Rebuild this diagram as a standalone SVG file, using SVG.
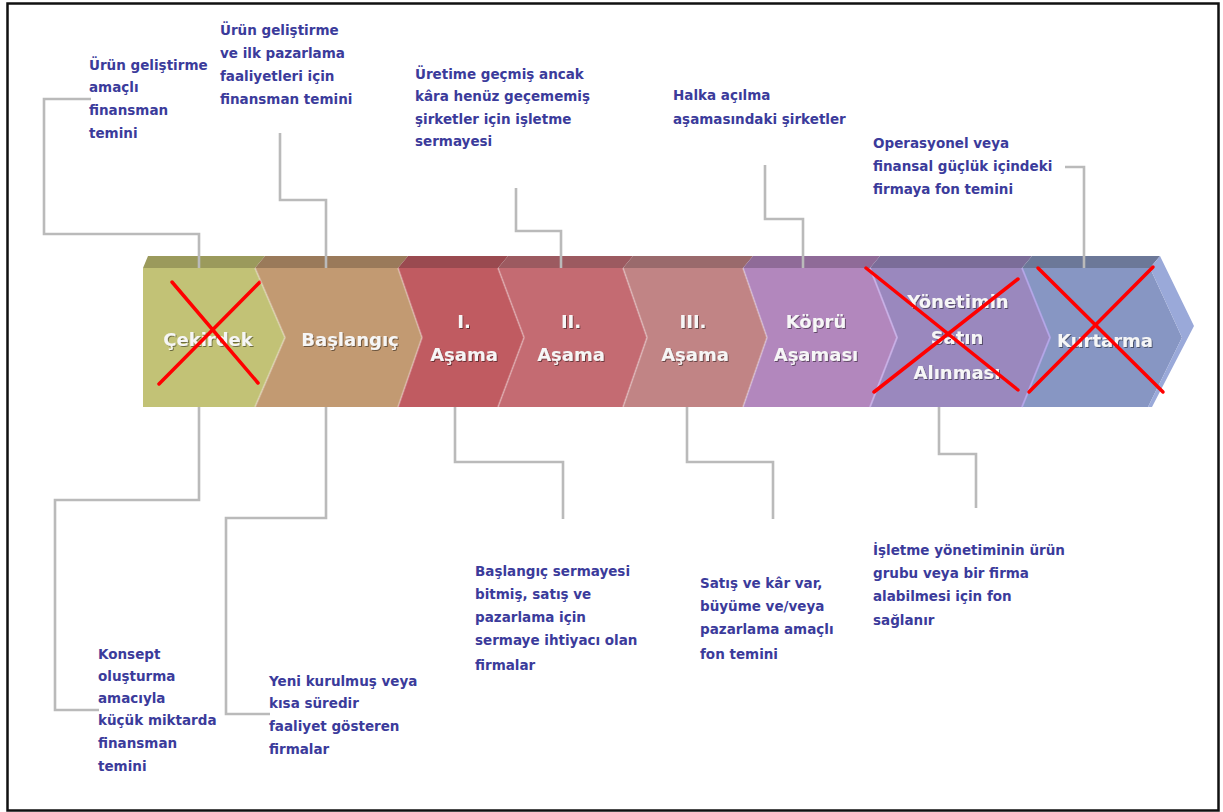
<svg xmlns="http://www.w3.org/2000/svg" width="1223" height="812" viewBox="0 0 1223 812">
<defs>
<style>
.lbl{font-family:"DejaVu Sans","Liberation Sans",sans-serif;font-weight:bold;font-size:13.5px;fill:#3b3b9b}
.chv{font-family:"DejaVu Sans","Liberation Sans",sans-serif;font-weight:bold;font-size:18px;fill:#f6f6f6;text-anchor:middle}
.con{fill:none;stroke:#bababa;stroke-width:2.6}
.hl{fill:none;stroke:#ffffff;stroke-opacity:0.28;stroke-width:2}
.x{fill:none;stroke:#ff0000;stroke-width:3.5;stroke-linecap:round}
</style>
<filter id="sh" x="-10%" y="-30%" width="120%" height="160%">
<feDropShadow dx="1" dy="1" stdDeviation="0.6" flood-color="#000" flood-opacity="0.45"/>
</filter>
</defs>
<rect x="0" y="0" width="1223" height="812" fill="#ffffff"/>
<rect x="7.5" y="3.5" width="1211" height="807" fill="none" stroke="#111" stroke-width="2.5"/>

<g id="cekirdek">
<polygon points="143,268 148,256 265,256 255,268" fill="#9b9a5c"/>
<polygon points="143,268 255,268 285,337.5 255,407 143,407" fill="#c2c276"/>
<text class="chv" x="208" y="346" filter="url(#sh)">Çekirdek</text>
<path class="x" d="M172,282 L258,383 M260,282 L159,384"/>
</g>

<g id="baslangic">
<polygon points="255,268 265,256 408,256 398,268" fill="#9a7a5a"/>
<polygon points="255,268 398,268 422,337.5 398,407 255,407 285,337.5" fill="#c29a72"/>
<polyline class="hl" points="255,268 285,337.5 255,407"/>
<text class="chv" x="350" y="346" filter="url(#sh)">Başlangıç</text>
</g>

<g id="asama1">
<polygon points="398,268 408,256 508,256 498,268" fill="#9a4a50"/>
<polygon points="398,268 498,268 524,337.5 498,407 398,407 422,337.5" fill="#c05b61"/>
<polyline class="hl" points="398,268 422,337.5 398,407"/>
<text class="chv" x="464" y="328" filter="url(#sh)">I.</text>
<text class="chv" x="464" y="361" filter="url(#sh)">Aşama</text>
</g>

<g id="asama2">
<polygon points="498,268 508,256 633,256 623,268" fill="#9c5a60"/>
<polygon points="498,268 623,268 647,337.5 623,407 498,407 524,337.5" fill="#c46b72"/>
<polyline class="hl" points="498,268 524,337.5 498,407"/>
<text class="chv" x="571" y="328" filter="url(#sh)">II.</text>
<text class="chv" x="571" y="361" filter="url(#sh)">Aşama</text>
</g>

<g id="asama3">
<polygon points="623,268 633,256 753,256 743,268" fill="#9a6a6c"/>
<polygon points="623,268 743,268 767,337.5 743,407 623,407 647,337.5" fill="#c18485"/>
<polyline class="hl" points="623,268 647,337.5 623,407"/>
<text class="chv" x="693" y="328" filter="url(#sh)">III.</text>
<text class="chv" x="695" y="361" filter="url(#sh)">Aşama</text>
</g>

<g id="kopru">
<polygon points="743,268 753,256 880,256 870,268" fill="#8f6b98"/>
<polygon points="743,268 870,268 897,337.5 870,407 743,407 767,337.5" fill="#b287bd"/>
<polyline class="hl" points="743,268 767,337.5 743,407"/>
<text class="chv" x="816" y="328" filter="url(#sh)">Köprü</text>
<text class="chv" x="816" y="361" filter="url(#sh)">Aşaması</text>
</g>

<g id="yonetim">
<polygon points="870,268 880,256 1032,256 1022,268" fill="#7b6d99"/>
<polygon points="870,268 1022,268 1050,337.5 1022,407 870,407 897,337.5" fill="#9a88be"/>
<polyline class="hl" points="870,268 897,337.5 870,407" style="stroke:#d0b8f0;stroke-opacity:0.7"/>
<text class="chv" x="958" y="308" filter="url(#sh)">Yönetimin</text>
<text class="chv" x="957" y="344" filter="url(#sh)">Satın</text>
<text class="chv" x="957" y="379" filter="url(#sh)">Alınması</text>
<path class="x" d="M866,268 L1018,390 M1018,279 L874,392"/>
</g>

<g id="kurtarma">
<polygon points="1022,268 1032,256 1160,256 1150,268" fill="#6c7898"/>
<polygon points="1022,268 1150,268 1182,337.5 1148,407 1022,407 1050,337.5" fill="#8796c3"/>
<polygon points="1150,268 1160,256 1194,326 1152,407 1148,407 1182,337.5" fill="#9aa9d9"/>
<polyline class="hl" points="1022,268 1050,337.5 1022,407" style="stroke:#b8a8ec;stroke-opacity:0.8"/>
<text class="chv" x="1105" y="347" filter="url(#sh)">Kurtarma</text>
<path class="x" d="M1038,268 L1163,392 M1153,267 L1029,392"/>
</g>

<g id="connectors">
<path class="con" d="M91,99 H44 V234 H199 V268"/>
<path class="con" d="M280,133 V200 H326 V268"/>
<path class="con" d="M516,188 V231 H561 V268"/>
<path class="con" d="M765,165 V219 H803 V268"/>
<path class="con" d="M1065,167 H1084 V268"/>
<path class="con" d="M199,407 V500 H55 V710 H99"/>
<path class="con" d="M326,407 V518 H226 V714 H270"/>
<path class="con" d="M455,407 V462 H563 V519"/>
<path class="con" d="M687,407 V462 H773 V519"/>
<path class="con" d="M939,407 V454 H976 V508"/>
</g>

<g id="note-cekirdek-top">
<text class="lbl" x="89" y="70">Ürün geliştirme</text>
<text class="lbl" x="89" y="92">amaçlı</text>
<text class="lbl" x="89" y="115">finansman</text>
<text class="lbl" x="89" y="138">temini</text>
</g>
<g id="note-baslangic-top">
<text class="lbl" x="220" y="35">Ürün geliştirme</text>
<text class="lbl" x="220" y="58">ve ilk pazarlama</text>
<text class="lbl" x="220" y="81">faaliyetleri için</text>
<text class="lbl" x="220" y="104">finansman temini</text>
</g>
<g id="note-asama2-top">
<text class="lbl" x="415" y="79">Üretime geçmiş ancak</text>
<text class="lbl" x="415" y="101">kâra henüz geçememiş</text>
<text class="lbl" x="415" y="124">şirketler için işletme</text>
<text class="lbl" x="415" y="146">sermayesi</text>
</g>
<g id="note-kopru-top">
<text class="lbl" x="673" y="100">Halka açılma</text>
<text class="lbl" x="673" y="124">aşamasındaki şirketler</text>
</g>
<g id="note-kurtarma-top">
<text class="lbl" x="873" y="148">Operasyonel veya</text>
<text class="lbl" x="873" y="171">finansal güçlük içindeki</text>
<text class="lbl" x="873" y="194">firmaya fon temini</text>
</g>
<g id="note-cekirdek-bottom">
<text class="lbl" x="98" y="659">Konsept</text>
<text class="lbl" x="98" y="681">oluşturma</text>
<text class="lbl" x="98" y="703">amacıyla</text>
<text class="lbl" x="98" y="725">küçük miktarda</text>
<text class="lbl" x="98" y="748">finansman</text>
<text class="lbl" x="98" y="771">temini</text>
</g>
<g id="note-baslangic-bottom">
<text class="lbl" x="269" y="686">Yeni kurulmuş veya</text>
<text class="lbl" x="269" y="708">kısa süredir</text>
<text class="lbl" x="269" y="731">faaliyet gösteren</text>
<text class="lbl" x="269" y="754">firmalar</text>
</g>
<g id="note-asama1-bottom">
<text class="lbl" x="475" y="576">Başlangıç sermayesi</text>
<text class="lbl" x="475" y="599">bitmiş, satış ve</text>
<text class="lbl" x="475" y="622">pazarlama için</text>
<text class="lbl" x="475" y="645">sermaye ihtiyacı olan</text>
<text class="lbl" x="475" y="670">firmalar</text>
</g>
<g id="note-asama3-bottom">
<text class="lbl" x="700" y="588">Satış ve kâr var,</text>
<text class="lbl" x="700" y="611">büyüme ve/veya</text>
<text class="lbl" x="700" y="634">pazarlama amaçlı</text>
<text class="lbl" x="700" y="659">fon temini</text>
</g>
<g id="note-yonetim-bottom">
<text class="lbl" x="873" y="555">İşletme yönetiminin ürün</text>
<text class="lbl" x="873" y="578">grubu veya bir firma</text>
<text class="lbl" x="873" y="601">alabilmesi için fon</text>
<text class="lbl" x="873" y="625">sağlanır</text>
</g>
</svg>
